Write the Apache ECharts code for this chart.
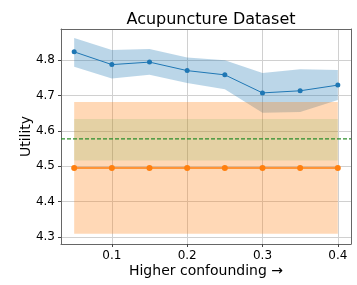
<!DOCTYPE html>
<html>
<head>
<meta charset="utf-8">
<script src="https://cdn.jsdelivr.net/npm/echarts@6/dist/echarts.min.js"></script>
<style>
  html, body { margin: 0; padding: 0; background: #fff; }
  #chart { width: 357px; height: 285px; }
</style>
</head>
<body>
<div id="chart"></div>
<script>
// confounding levels
const xs = [0.05, 0.1, 0.15, 0.2, 0.25, 0.3, 0.35, 0.4];
// blue method: mean and band
const blueMean = [4.823, 4.787, 4.794, 4.770, 4.758, 4.707, 4.713, 4.729];
const blueUpper = [4.862, 4.828, 4.831, 4.807, 4.799, 4.763, 4.774, 4.772];
const blueLower = [4.781, 4.748, 4.758, 4.735, 4.717, 4.651, 4.653, 4.687];
// orange method: constant mean and band
const orangeMean = [4.495, 4.495, 4.495, 4.495, 4.495, 4.495, 4.495, 4.495];
const orangeUpper = [4.681, 4.681, 4.681, 4.681, 4.681, 4.681, 4.681, 4.681];
const orangeLower = [4.309, 4.309, 4.309, 4.309, 4.309, 4.309, 4.309, 4.309];
// green baseline (dashed) and its band
const greenLevel = 4.577;
const greenUpper = [4.633, 4.633, 4.633, 4.633, 4.633, 4.633, 4.633, 4.633];
const greenLower = [4.516, 4.516, 4.516, 4.516, 4.516, 4.516, 4.516, 4.516];
// ticks
const xTicks = [0.1, 0.2, 0.3, 0.4];
const yTicks = [4.3, 4.4, 4.5, 4.6, 4.7, 4.8];

const chart = echarts.init(document.getElementById('chart'));

const pair = (arr) => arr.map((v, i) => [xs[i], v]);

// fill_between as one polygon, drawn through the axes
function band(name, lower, upper, color, alpha, z) {
  return {
    name: name,
    type: 'custom',
    silent: true,
    z: z,
    data: xs.map((x, i) => [x, lower[i], upper[i]]),
    renderItem: function (params, api) {
      if (params.dataIndex !== 0) return null;
      const top = xs.map((x, i) => api.coord([x, upper[i]]));
      const bot = xs.map((x, i) => api.coord([x, lower[i]])).reverse();
      return {
        type: 'polygon',
        shape: { points: top.concat(bot) },
        style: { fill: color, opacity: alpha }
      };
    }
  };
}

const font = 'DejaVu Sans';
const spine = '#666';

const option = {
  animation: false,
  title: {
    text: 'Acupuncture Dataset',
    left: 206,
    textAlign: 'center',
    top: 7,
    textStyle: { fontFamily: font, fontSize: 16, fontWeight: 'normal', color: '#000' }
  },
  grid: { left: 61, right: 6, top: 29, bottom: 41 },
  xAxis: [{
    type: 'value',
    min: 0.0325,
    max: 0.4175,
    name: 'Higher confounding \u2192',
    nameLocation: 'middle',
    nameGap: 20,
    nameMoveOverlap: false,
    nameTextStyle: { fontFamily: font, fontSize: 14, color: '#000', verticalAlign: 'top' },
    axisLine: { show: true, onZero: false, lineStyle: { color: spine, width: 1 } },
    axisTick: { show: true, length: 3, customValues: xTicks, lineStyle: { color: '#444' } },
    axisLabel: { customValues: xTicks, fontFamily: font, fontSize: 12, color: '#000', margin: 6,
      formatter: (v) => v.toFixed(1) },
    splitLine: { show: true, lineStyle: { color: '#d0d0d0', width: 1 } }
  }, {
    type: 'value',
    position: 'top',
    min: 0.0325,
    max: 0.4175,
    axisLine: { show: true, onZero: false, lineStyle: { color: spine, width: 1 } },
    axisTick: { show: false },
    axisLabel: { show: false },
    splitLine: { show: false }
  }],
  yAxis: [{
    type: 'value',
    min: 4.28,
    max: 4.8876,
    name: 'Utility',
    nameLocation: 'middle',
    nameGap: 28,
    nameMoveOverlap: false,
    nameTextStyle: { fontFamily: font, fontSize: 14, color: '#000' },
    axisLine: { show: true, onZero: false, lineStyle: { color: spine, width: 1 } },
    axisTick: { show: true, length: 3, customValues: yTicks, lineStyle: { color: '#444' } },
    axisLabel: { customValues: yTicks, fontFamily: font, fontSize: 12, color: '#000', margin: 6,
      formatter: (v) => v.toFixed(1) },
    splitLine: { show: true, lineStyle: { color: '#d0d0d0', width: 1 } }
  }, {
    type: 'value',
    position: 'right',
    min: 4.28,
    max: 4.8876,
    axisLine: { show: true, onZero: false, lineStyle: { color: spine, width: 1 } },
    axisTick: { show: false },
    axisLabel: { show: false },
    splitLine: { show: false }
  }],
  series: [
    band('blue', blueLower, blueUpper, '#1f77b4', 0.3, 2),
    band('orange', orangeLower, orangeUpper, '#ff7f0e', 0.3, 3),
    band('green', greenLower, greenUpper, '#2ca02c', 0.13, 4),
    {
      name: 'green_line',
      type: 'line',
      data: [[0.0325, greenLevel], [0.4175, greenLevel]],
      symbol: 'none',
      lineStyle: { color: '#2c8f2c', type: [4, 2], width: 1.2 },
      z: 5
    },
    {
      name: 'blue',
      type: 'line',
      data: pair(blueMean),
      symbol: 'circle',
      symbolSize: 5,
      itemStyle: { color: '#1f77b4' },
      lineStyle: { color: '#1f77b4', width: 1 },
      z: 6
    },
    {
      name: 'orange',
      type: 'line',
      data: pair(orangeMean),
      symbol: 'circle',
      symbolSize: 6,
      itemStyle: { color: '#ff7f0e' },
      lineStyle: { color: '#ff7f0e', width: 1.5 },
      z: 6
    }
  ]
};

chart.setOption(option);
</script>
</body>
</html>
